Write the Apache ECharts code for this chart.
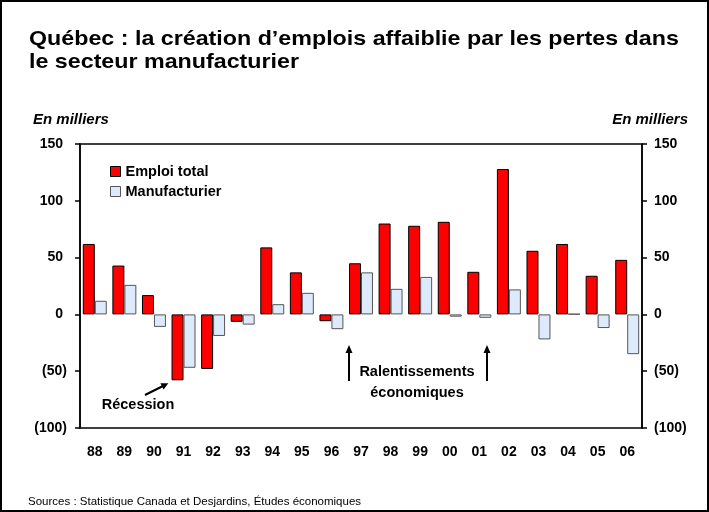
<!DOCTYPE html>
<html>
<head>
<meta charset="utf-8">
<script src="https://cdn.jsdelivr.net/npm/echarts@6/dist/echarts.min.js"></script>
<style>
  html, body { margin: 0; padding: 0; background: #fff; }
  #chart { width: 709px; height: 512px; }
</style>
</head>
<body>
<div id="chart"></div>
<script>
// données (en milliers)
const years = ['88', '89', '90', '91', '92', '93', '94', '95', '96', '97',
  '98', '99', '00', '01', '02', '03', '04', '05', '06'];
const emploiTotal = [62, 43, 17, -58, -48, -6.5, 59, 37, -6, 45,
  80, 78, 81.5, 37.5, 128, 56, 62, 34, 48];
const manufacturier = [12, 26, -11, -47, -19, -9, 9, 19, -13, 37,
  22.5, 33, -2, -3, 22, -22, 0.4, -12, -35];
const yTicks = { min: -100, max: 150, step: 50 };
const titleLines = ['Québec : la création d’emplois affaiblie par les pertes dans',
  'le secteur manufacturier'];

const font = 'Liberation Sans, Arial, sans-serif';
const redFill = '#ff0000';
const blueFill = '#dceafb';

function fmt (v, right) {
  if (v < 0) return '(' + (-v) + ')';
  return right ? String(v) : v + ' ';
}

function yAxis (pos) {
  return {
    type: 'value',
    position: pos,
    min: yTicks.min,
    max: yTicks.max,
    interval: yTicks.step,
    splitLine: { show: false },
    axisLine: { show: true, lineStyle: { color: '#000', width: 1.5 } },
    axisTick: { show: true, length: 5, lineStyle: { color: '#000', width: 1.5 } },
    axisLabel: {
      margin: pos === 'left' ? 13 : 12,
      color: '#000',
      fontFamily: font,
      fontWeight: 'bold',
      fontSize: 14,
      formatter: v => fmt(v, pos === 'right')
    }
  };
}

const myChart = echarts.init(document.getElementById('chart'));
const option = {
  backgroundColor: '#fff',
  animation: false,
  legend: {
    orient: 'vertical',
    left: 110,
    top: 164,
    itemWidth: 10,
    itemHeight: 10,
    itemGap: 5,
    padding: 0,
    textStyle: { fontFamily: font, fontWeight: 'bold', fontSize: 14.5, color: '#000' },
    data: [
      { name: 'Emploi total', icon: 'rect', itemStyle: { color: redFill, borderColor: '#000', borderWidth: 1 } },
      { name: 'Manufacturier', icon: 'rect', itemStyle: { color: blueFill, borderColor: '#555', borderWidth: 1 } }
    ]
  },
  grid: {
    left: 80,
    right: 67,
    top: 144,
    bottom: 84,
    show: true,
    borderColor: '#000',
    borderWidth: 1.5
  },
  xAxis: {
    type: 'category',
    data: years,
    position: 'bottom',
    axisLine: { show: false, onZero: false },
    axisTick: { show: false },
    axisLabel: {
      margin: 17,
      color: '#000',
      fontFamily: font,
      fontWeight: 'bold',
      fontSize: 14
    }
  },
  yAxis: [yAxis('left'), yAxis('right')],
  series: [
    {
      name: 'Emploi total',
      type: 'bar',
      data: emploiTotal,
      barGap: '0%',
      barCategoryGap: '19%',
      itemStyle: { color: redFill, borderColor: '#000', borderWidth: 1 }
    },
    {
      name: 'Manufacturier',
      type: 'bar',
      data: manufacturier,
      itemStyle: { color: blueFill, borderColor: '#555', borderWidth: 1 }
    }
  ],
  graphic: [
    // cadre
    { type: 'rect', shape: { x: 1, y: 1, width: 707, height: 510 },
      style: { fill: 'none', stroke: '#000', lineWidth: 2 }, silent: true },
    // titre (texte un peu étiré comme dans l'original)
    { type: 'group', x: 29, y: 0, scaleX: 1.107,
      children: [
        { type: 'text', x: 0, y: 39,
          style: { text: titleLines[0], font: 'bold 21px ' + font, fill: '#000', verticalAlign: 'middle' } },
        { type: 'text', x: 0, y: 62,
          style: { text: titleLines[1], font: 'bold 21px ' + font, fill: '#000', verticalAlign: 'middle' } }
      ] },
    { type: 'text', x: 33, y: 120,
      style: { text: 'En milliers', font: 'italic bold 15px ' + font, fill: '#000', verticalAlign: 'middle' } },
    { type: 'text', x: 688, y: 120,
      style: { text: 'En milliers', font: 'italic bold 15px ' + font, fill: '#000', align: 'right', verticalAlign: 'middle' } },
    // annotations
    { type: 'text', x: 138, y: 405,
      style: { text: 'Récession', font: 'bold 14.5px ' + font, fill: '#000', align: 'center', verticalAlign: 'middle' } },
    { type: 'line', shape: { x1: 145, y1: 395, x2: 163, y2: 386 },
      style: { stroke: '#000', lineWidth: 2 } },
    { type: 'polygon', shape: { points: [[168.3, 383.3], [163.6, 389.5], [160.4, 383.3]] },
      style: { fill: '#000' } },
    { type: 'line', shape: { x1: 349, y1: 381, x2: 349, y2: 351 },
      style: { stroke: '#000', lineWidth: 2 } },
    { type: 'polygon', shape: { points: [[349, 345], [345.5, 353], [352.5, 353]] },
      style: { fill: '#000' } },
    { type: 'line', shape: { x1: 487, y1: 381, x2: 487, y2: 351 },
      style: { stroke: '#000', lineWidth: 2 } },
    { type: 'polygon', shape: { points: [[487, 345], [483.5, 353], [490.5, 353]] },
      style: { fill: '#000' } },
    { type: 'text', x: 417, y: 372,
      style: { text: 'Ralentissements', font: 'bold 14.5px ' + font, fill: '#000', align: 'center', verticalAlign: 'middle' } },
    { type: 'text', x: 417, y: 393,
      style: { text: 'économiques', font: 'bold 14.5px ' + font, fill: '#000', align: 'center', verticalAlign: 'middle' } },
    { type: 'text', x: 28, y: 502,
      style: { text: 'Sources : Statistique Canada et Desjardins, Études économiques', font: '11.5px ' + font, fill: '#000', verticalAlign: 'middle' } }
  ]
};
option && myChart.setOption(option);
</script>
</body>
</html>
